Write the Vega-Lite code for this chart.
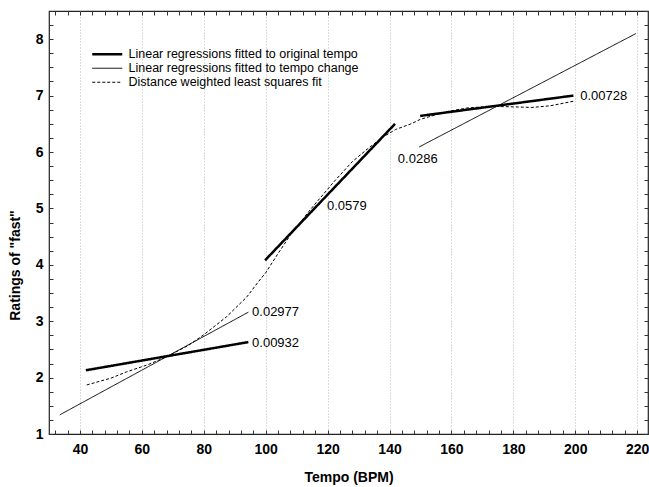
{
  "$schema": "https://vega.github.io/schema/vega-lite/v6.json",
  "width": 599,
  "height": 423,
  "autosize": "none",
  "padding": {"left": 49, "top": 11, "right": 1, "bottom": 53},
  "background": "white",
  "config": {
    "view": {"stroke": "#222", "strokeWidth": 1.2},
    "font": "Liberation Sans"
  },
  "datasets": {
    "lines": [
      {"series": "Linear regressions fitted to original tempo", "seg": "a1", "t": 41.9, "r": 2.13},
      {"series": "Linear regressions fitted to original tempo", "seg": "a1", "t": 94.4, "r": 2.63},
      {"series": "Linear regressions fitted to original tempo", "seg": "a2", "t": 99.8, "r": 4.08},
      {"series": "Linear regressions fitted to original tempo", "seg": "a2", "t": 141.8, "r": 6.5},
      {"series": "Linear regressions fitted to original tempo", "seg": "a3", "t": 149.9, "r": 6.64},
      {"series": "Linear regressions fitted to original tempo", "seg": "a3", "t": 199.4, "r": 7.0},
      {"series": "Linear regressions fitted to tempo change", "seg": "b1", "t": 33.5, "r": 1.34},
      {"series": "Linear regressions fitted to tempo change", "seg": "b1", "t": 94.4, "r": 3.16},
      {"series": "Linear regressions fitted to tempo change", "seg": "b2", "t": 149.6, "r": 6.09},
      {"series": "Linear regressions fitted to tempo change", "seg": "b2", "t": 219.6, "r": 8.1},
      {"series": "Distance weighted least squares fit", "seg": "c", "t": 42.2, "r": 1.87},
      {"series": "Distance weighted least squares fit", "seg": "c", "t": 50, "r": 1.99},
      {"series": "Distance weighted least squares fit", "seg": "c", "t": 55, "r": 2.1},
      {"series": "Distance weighted least squares fit", "seg": "c", "t": 62, "r": 2.23},
      {"series": "Distance weighted least squares fit", "seg": "c", "t": 68, "r": 2.37},
      {"series": "Distance weighted least squares fit", "seg": "c", "t": 75, "r": 2.57},
      {"series": "Distance weighted least squares fit", "seg": "c", "t": 80, "r": 2.76},
      {"series": "Distance weighted least squares fit", "seg": "c", "t": 87.4, "r": 3.08},
      {"series": "Distance weighted least squares fit", "seg": "c", "t": 93.9, "r": 3.43},
      {"series": "Distance weighted least squares fit", "seg": "c", "t": 97.5, "r": 3.69},
      {"series": "Distance weighted least squares fit", "seg": "c", "t": 100, "r": 3.86},
      {"series": "Distance weighted least squares fit", "seg": "c", "t": 104, "r": 4.2},
      {"series": "Distance weighted least squares fit", "seg": "c", "t": 108, "r": 4.53},
      {"series": "Distance weighted least squares fit", "seg": "c", "t": 114, "r": 4.95},
      {"series": "Distance weighted least squares fit", "seg": "c", "t": 122, "r": 5.47},
      {"series": "Distance weighted least squares fit", "seg": "c", "t": 128, "r": 5.83},
      {"series": "Distance weighted least squares fit", "seg": "c", "t": 133, "r": 6.06},
      {"series": "Distance weighted least squares fit", "seg": "c", "t": 138, "r": 6.27},
      {"series": "Distance weighted least squares fit", "seg": "c", "t": 142, "r": 6.4},
      {"series": "Distance weighted least squares fit", "seg": "c", "t": 147, "r": 6.5},
      {"series": "Distance weighted least squares fit", "seg": "c", "t": 150, "r": 6.58},
      {"series": "Distance weighted least squares fit", "seg": "c", "t": 158, "r": 6.71},
      {"series": "Distance weighted least squares fit", "seg": "c", "t": 165, "r": 6.78},
      {"series": "Distance weighted least squares fit", "seg": "c", "t": 173, "r": 6.81},
      {"series": "Distance weighted least squares fit", "seg": "c", "t": 180, "r": 6.8},
      {"series": "Distance weighted least squares fit", "seg": "c", "t": 186, "r": 6.79},
      {"series": "Distance weighted least squares fit", "seg": "c", "t": 192, "r": 6.82},
      {"series": "Distance weighted least squares fit", "seg": "c", "t": 199.4, "r": 6.9}
    ],
    "labels": [
      {"label": "0.02977", "t": 95.6, "r": 3.16},
      {"label": "0.00932", "t": 95.6, "r": 2.61},
      {"label": "0.00728", "t": 201.6, "r": 6.99},
      {"label": "0.0286", "t": 142.7, "r": 5.88},
      {"label": "0.0579", "t": 119.8, "r": 5.04}
    ]
  },
  "layer": [
    {
      "data": {"name": "lines"},
      "mark": {"type": "line", "color": "black", "clip": true},
      "encoding": {
        "x": {
          "field": "t", "type": "quantitative",
          "scale": {"domain": [30, 223.5], "nice": false, "zero": false},
          "axis": {
            "orient": "bottom",
            "values": [32,36,40,44,48,52,56,60,64,68,72,76,80,84,88,92,96,100,104,108,112,116,120,124,128,132,136,140,144,148,152,156,160,164,168,172,176,180,184,188,192,196,200,204,208,212,216,220],
            "labelExpr": "datum.value % 20 === 0 ? '' + datum.value : ''",
            "tickSize": -4,
            "tickColor": "#333",
            "grid": true,
            "gridColor": "#bbb",
            "gridDash": [1, 2],
            "gridOpacity": {"condition": {"test": "datum.value % 20 === 0", "value": 1}, "value": 0},
            "domain": false,
            "labelFont": "Liberation Sans",
            "labelFontWeight": "bold",
            "labelFontSize": 14,
            "labelColor": "black",
            "labelPadding": 12,
            "labelOverlap": false,
            "labelFlush": false,
            "title": "Tempo (BPM)",
            "titleFont": "Liberation Sans",
            "titleFontSize": 14,
            "titleFontWeight": "bold",
            "titleColor": "black",
            "titlePadding": 14
          }
        },
        "y": {
          "field": "r", "type": "quantitative",
          "scale": {"domain": [1, 8.5], "nice": false, "zero": false},
          "axis": {
            "orient": "left",
            "values": [1,1.25,1.5,1.75,2,2.25,2.5,2.75,3,3.25,3.5,3.75,4,4.25,4.5,4.75,5,5.25,5.5,5.75,6,6.25,6.5,6.75,7,7.25,7.5,7.75,8,8.25,8.5],
            "labelExpr": "datum.value % 1 === 0 ? '' + datum.value : ''",
            "tickSize": -4,
            "tickColor": "#333",
            "grid": false,
            "domain": false,
            "labelFont": "Liberation Sans",
            "labelFontWeight": "bold",
            "labelFontSize": 14,
            "labelColor": "black",
            "labelPadding": 10,
            "labelOverlap": false,
            "labelFlush": false,
            "title": "Ratings of \"fast\"",
            "titleFont": "Liberation Sans",
            "titleFontSize": 14,
            "titleFontWeight": "bold",
            "titleColor": "black",
            "titleAngle": 270,
            "titleAlign": "center",
            "titleBaseline": "middle",
            "titleX": -34,
            "titleY": 254
          }
        },
        "detail": {"field": "seg"},
        "strokeWidth": {
          "condition": {"test": "datum.series === 'Linear regressions fitted to original tempo'", "value": 2.5},
          "value": 1
        },
        "strokeDash": {
          "field": "series", "type": "nominal",
          "scale": {
            "domain": ["Linear regressions fitted to original tempo", "Linear regressions fitted to tempo change", "Distance weighted least squares fit"],
            "range": [[1, 0], [1, 0], [3, 2]]
          },
          "legend": {
            "orient": "none",
            "legendX": 52,
            "legendY": 37,
            "title": null,
            "padding": 0,
            "symbolType": "stroke",
            "symbolSize": 900,
            "symbolStrokeColor": "black",
            "symbolStrokeWidth": 1,
            "labelFont": "Liberation Sans",
            "labelFontSize": 12.5,
            "labelColor": "black",
            "labelOffset": 15,
            "rowPadding": 1,
            "labelLimit": 400,
            "encode": {
              "symbols": {
                "update": {
                  "strokeWidth": {"signal": "datum.value === 'Linear regressions fitted to original tempo' ? 2.5 : 1"}
                }
              }
            }
          }
        }
      }
    },
    {
      "data": {"name": "labels"},
      "mark": {"type": "text", "align": "left", "baseline": "middle", "fontSize": 13, "font": "Liberation Sans", "color": "black"},
      "encoding": {
        "x": {
          "field": "t", "type": "quantitative",
          "axis": {
            "orient": "top",
            "values": [32,36,40,44,48,52,56,60,64,68,72,76,80,84,88,92,96,100,104,108,112,116,120,124,128,132,136,140,144,148,152,156,160,164,168,172,176,180,184,188,192,196,200,204,208,212,216,220],
            "labels": false,
            "tickSize": -4,
            "tickColor": "#333",
            "grid": false,
            "domain": false,
            "title": null
          }
        },
        "y": {
          "field": "r", "type": "quantitative",
          "axis": {
            "orient": "right",
            "values": [1,1.25,1.5,1.75,2,2.25,2.5,2.75,3,3.25,3.5,3.75,4,4.25,4.5,4.75,5,5.25,5.5,5.75,6,6.25,6.5,6.75,7,7.25,7.5,7.75,8,8.25,8.5],
            "labels": false,
            "tickSize": -4,
            "tickColor": "#333",
            "grid": false,
            "domain": false,
            "title": null
          }
        },
        "text": {"field": "label"}
      }
    }
  ],
  "resolve": {"axis": {"x": "independent", "y": "independent"}}
}
